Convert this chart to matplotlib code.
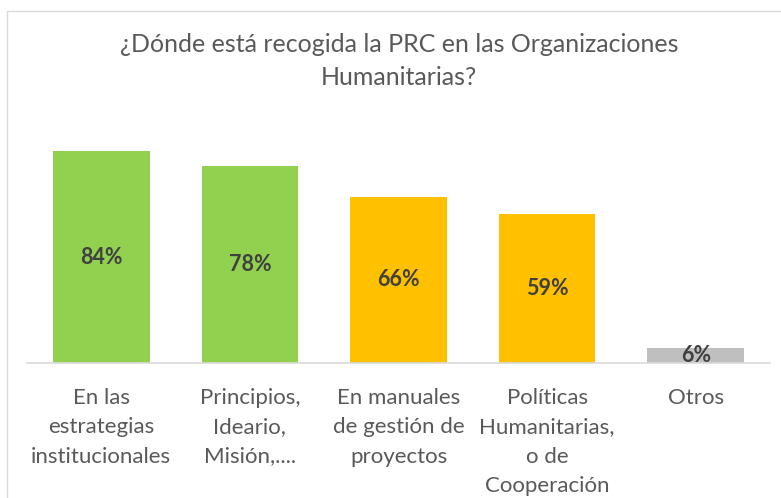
import matplotlib.pyplot as plt
from matplotlib.patches import Rectangle

plt.rcParams['font.family'] = ['Lato', 'DejaVu Sans']

# datos
categorias = ["En las\nestrategias\ninstitucionales",
              "Principios,\nIdeario,\nMisión,....",
              "En manuales\nde gestión de\nproyectos",
              "Políticas\nHumanitarias,\no de\nCooperación",
              "Otros"]
valores = [84, 78, 66, 59, 6]
colores = ['#92D050', '#92D050', '#FFC000', '#FFC000', '#BFBFBF']

fig = plt.figure(figsize=(7.81, 4.98), dpi=100)
ax = fig.add_axes([27 / 781, 1 - 363 / 498, 743 / 781, 227 / 498])

x = range(len(valores))
bars = ax.bar(x, valores, width=0.65, color=colores)

# etiquetas dentro de las barras
for b, v in zip(bars, valores):
    ax.text(b.get_x() + b.get_width() / 2, v / 2, f"{v}%", ha='center', va='center',
            fontsize=15.5, fontweight='bold', color='#404040')

ax.set_xlim(-0.5, len(valores) - 0.5)
ax.set_ylim(0, 90)
ax.set_yticks([])
ax.set_xticks(list(x))
ax.set_xticklabels(categorias, fontsize=16, color='#595959', linespacing=1.58, va='top')
ax.tick_params(axis='x', length=0, pad=18)
for s in ['top', 'right', 'left']:
    ax.spines[s].set_visible(False)
ax.spines['bottom'].set_color('#D9D9D9')
ax.spines['bottom'].set_linewidth(1.2)

fig.text(399 / 781, 1 - 61 / 498,
         "¿Dónde está recogida la PRC en las Organizaciones\nHumanitarias?",
         ha='center', va='center', fontsize=18, color='#595959', linespacing=1.55)

# borde del gráfico
fig.patches.append(Rectangle((7 / 781, -0.1), 1.1, 1 - 11 / 498 + 0.1, transform=fig.transFigure,
                             fill=False, edgecolor='#D9D9D9', linewidth=1))

fig.savefig('out.png', dpi=100)
